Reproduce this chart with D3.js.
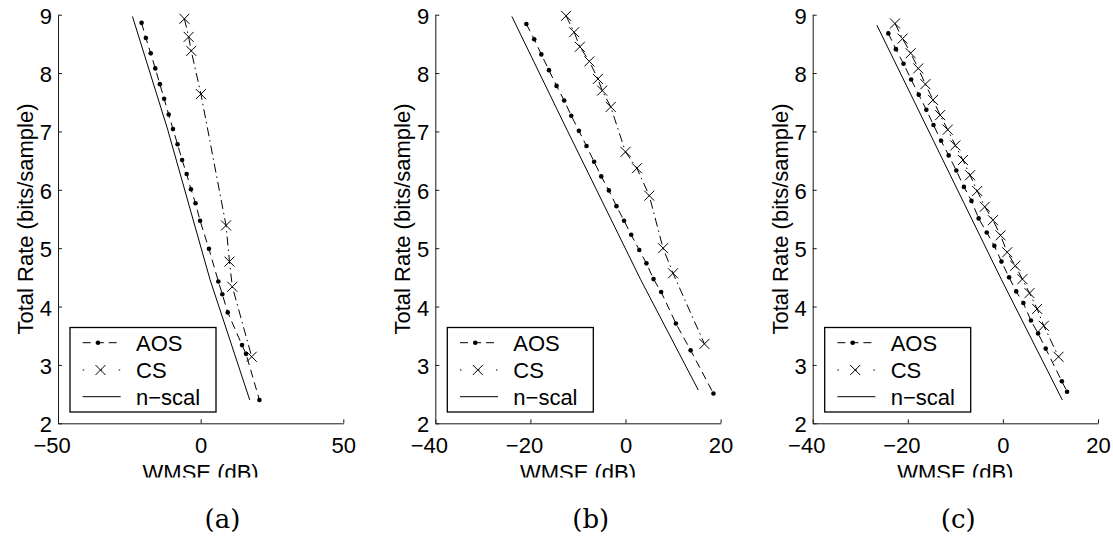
<!DOCTYPE html>
<html>
<head>
<meta charset="utf-8">
<script src="https://cdn.jsdelivr.net/npm/d3@7"></script>
<style>
    body { margin: 0; background: #fff; }
    svg { display: block; }
    text { font-family: "Liberation Sans", Arial, Helvetica, sans-serif; fill: #000; }
</style>
</head>
<body>
<div id="chart"></div>
<script>
// ---- data ----
// panel (a)
const aosWmseA = [-20.7, -19.2, -17.5, -15.9, -14.3, -12.8, -11.2, -9.7, -8.1, -6.5, -4.9, -3.4, -1.8, -0.2, 2.9, 6.2, 7.6, 9.5, 14.5, 15.9, 20.6]
const aosRateA = [8.86, 8.60, 8.34, 8.08, 7.81, 7.56, 7.29, 7.04, 6.78, 6.51, 6.27, 6.01, 5.77, 5.47, 4.99, 4.43, 4.21, 3.90, 3.34, 3.19, 2.40]
const csWmseA = [-5.7, -4.2, -3.3, 0.1, 8.9, 10.1, 11.1, 17.9]
const csRateA = [8.93, 8.62, 8.38, 7.64, 5.39, 4.77, 4.34, 3.14]
const nscalWmseA = [-23.9, -11.6, 3.3, 17.2]
const nscalRateA = [8.97, 7.04, 4.46, 2.40]

// panel (b)
const aosWmseB = [-20.85, -19.2, -17.7, -16.1, -14.5, -12.9, -11.4, -9.8, -8.2, -6.6, -5.1, -3.5, -1.9, -0.3, 1.2, 2.9, 4.4, 5.9, 7.5, 10.6, 13.7, 18.5]
const aosRateB = [8.84, 8.58, 8.32, 8.05, 7.78, 7.53, 7.27, 7.01, 6.75, 6.48, 6.23, 5.99, 5.72, 5.47, 5.23, 4.97, 4.74, 4.47, 4.25, 3.71, 3.25, 2.51]
const csWmseB = [-12.5, -10.8, -9.6, -7.6, -5.8, -4.9, -3.1, 0.0, 2.4, 5.0, 7.9, 10.0, 16.6]
const csRateB = [8.98, 8.70, 8.45, 8.20, 7.90, 7.70, 7.42, 6.65, 6.37, 5.90, 5.00, 4.57, 3.36]
const nscalWmseB = [-23.9, -12.2, 3.2, 15.3]
const nscalRateB = [8.97, 7.01, 4.46, 2.57]

// panel (c)
const aosWmseC = [-24.1, -22.5, -20.9, -19.3, -17.7, -16.1, -14.6, -13.0, -11.4, -9.8, -8.2, -6.6, -5.1, -3.4, -1.8, -0.3, 1.3, 2.8, 4.3, 5.9, 7.4, 9.0, 12.4, 13.5]
const aosRateC = [8.68, 8.41, 8.16, 7.89, 7.63, 7.37, 7.11, 6.84, 6.59, 6.33, 6.05, 5.81, 5.51, 5.27, 5.04, 4.77, 4.50, 4.26, 4.06, 3.76, 3.54, 3.28, 2.72, 2.54]
const csWmseC = [-22.7, -21.1, -19.4, -17.8, -16.3, -14.7, -13.2, -11.6, -10.0, -8.4, -6.9, -5.4, -3.8, -2.1, -0.5, 0.9, 2.6, 4.1, 5.6, 7.2, 8.6, 11.7]
const csRateC = [8.85, 8.59, 8.34, 8.08, 7.81, 7.54, 7.28, 7.03, 6.76, 6.51, 6.25, 5.98, 5.71, 5.48, 5.22, 4.93, 4.70, 4.47, 4.23, 3.96, 3.67, 3.14]
const nscalWmseC = [-26.5, -14.6, -0.3, 12.5]
const nscalRateC = [8.82, 6.84, 4.46, 2.40]

// axes
const xDomainA = [-50, 50]
const xDomainBC = [-40, 20]
const xTicksA = [-50, 0, 50]
const xTicksBC = [-40, -20, 0, 20]
const yDomain = [2, 9]
const yTicks = [2, 3, 4, 5, 6, 7, 8, 9]

const seriesNames = ['AOS', 'CS', 'n\u2212scal']
const panelLabels = ['(a)', '(b)', '(c)']
const xTitle = 'WMSE (dB)'
const yTitle = 'Total Rate (bits/sample)'

// ---- layout ----
let width = 1113,
    height = 542

let axisLeft = [58, 435.3, 812.7],
    plotW = 285.3,
    plotTop = 14.7,
    plotBottom = 423.3,
    captionX = [222.5, 590.8, 958.3]

let zip = (xs, ys) => xs.map((v, i) => [v, ys[i]])

let panels = [
    { xDomain: xDomainA, xTicks: xTicksA,
      aos: zip(aosWmseA, aosRateA), cs: zip(csWmseA, csRateA), nscal: zip(nscalWmseA, nscalRateA) },
    { xDomain: xDomainBC, xTicks: xTicksBC,
      aos: zip(aosWmseB, aosRateB), cs: zip(csWmseB, csRateB), nscal: zip(nscalWmseB, nscalRateB) },
    { xDomain: xDomainBC, xTicks: xTicksBC,
      aos: zip(aosWmseC, aosRateC), cs: zip(csWmseC, csRateC), nscal: zip(nscalWmseC, nscalRateC) }
]

let svg = d3.select('#chart')
    .append('svg')
    .attr('width', width)
    .attr('height', height)

// the x titles are cut off at the bottom in the original figure
svg.append('clipPath')
    .attr('id', 'xtitle-clip')
    .append('rect')
    .attr('x', 0).attr('y', 0)
    .attr('width', width).attr('height', 477.5)

let AOS_DASH = '8,5',
    CS_DASH = '9,4,1.5,4'

// x marker as a small path
function crossPath(cx, cy, r) {
    return `M${cx - r},${cy - r}L${cx + r},${cy + r}M${cx - r},${cy + r}L${cx + r},${cy - r}`
}

panels.forEach(function (p, i) {
    let x0 = axisLeft[i]
    let x = d3.scaleLinear().domain(p.xDomain).range([x0, x0 + plotW])
    let y = d3.scaleLinear().domain(yDomain).range([plotBottom, plotTop])

    let g = svg.append('g').attr('class', 'panel')

    // axes: only left and bottom, ticks pointing in
    let xAxis = d3.axisBottom(x).tickValues(p.xTicks).tickSizeInner(-4).tickSizeOuter(0).tickFormat('')
    let yAxis = d3.axisLeft(y).tickValues(yTicks).tickSizeInner(-4).tickSizeOuter(0).tickFormat('')

    let gx = g.append('g').attr('transform', `translate(0,${plotBottom})`).call(xAxis)
    let gy = g.append('g').attr('transform', `translate(${x0},0)`).call(yAxis)
    g.selectAll('.domain, .tick line').attr('stroke', '#1a1a1a').attr('stroke-width', 1)

    // y tick labels
    gy.selectAll('.tick').append('text')
        .attr('x', -6)
        .attr('y', 8.5)
        .attr('text-anchor', 'end')
        .style('font-size', '22px')
        .text(d => d)

    // x tick labels: digits centred on tick, minus sign hangs left (MATLAB style)
    gx.selectAll('.tick').each(function (d) {
        let t = d3.select(this).append('text')
            .attr('y', 29.5)
            .style('font-size', '22px')
            .text(Math.abs(d))
        let w = t.node().getComputedTextLength()
        t.attr('text-anchor', 'end')
            .attr('x', w / 2)
            .text(d < 0 ? '\u2212' + Math.abs(d) : d)
    })

    // axis titles
    g.append('text')
        .attr('clip-path', 'url(#xtitle-clip)')
        .attr('x', x0 + plotW / 2)
        .attr('y', 479.5)
        .attr('text-anchor', 'middle')
        .style('font-size', '22px')
        .text(xTitle)

    g.append('text')
        .attr('transform', `translate(${x0 - 25},${(plotTop + plotBottom) / 2}) rotate(-90)`)
        .attr('text-anchor', 'middle')
        .style('font-size', '22px')
        .text(yTitle)

    // lines
    let line = d3.line().x(d => x(d[0])).y(d => y(d[1]))

    g.append('path')
        .datum(p.nscal)
        .attr('d', line)
        .attr('fill', 'none')
        .attr('stroke', '#000')
        .attr('stroke-width', 1)

    g.append('path')
        .datum(p.aos)
        .attr('d', line)
        .attr('fill', 'none')
        .attr('stroke', '#000')
        .attr('stroke-width', 1)
        .attr('stroke-dasharray', AOS_DASH)

    g.append('path')
        .datum(p.cs)
        .attr('d', line)
        .attr('fill', 'none')
        .attr('stroke', '#000')
        .attr('stroke-width', 1)
        .attr('stroke-dasharray', CS_DASH)

    // markers
    g.selectAll('circle.aos')
        .data(p.aos)
        .enter()
        .append('circle')
        .attr('class', 'aos')
        .attr('cx', d => x(d[0]))
        .attr('cy', d => y(d[1]))
        .attr('r', 2.3)
        .attr('fill', '#000')

    g.selectAll('path.cs')
        .data(p.cs)
        .enter()
        .append('path')
        .attr('class', 'cs')
        .attr('d', d => crossPath(x(d[0]), y(d[1]), 5))
        .attr('stroke', '#000')
        .attr('stroke-width', 1)
        .attr('fill', 'none')

    // legend box
    let lx = x0 + 12, ly = 327.5
    let lg = g.append('g').attr('transform', `translate(${lx},${ly})`)
    lg.append('rect')
        .attr('width', 146)
        .attr('height', 84.5)
        .attr('fill', '#fff')
        .attr('stroke', '#000')
        .attr('stroke-width', 1.3)

    let rowY = [15.2, 42.5, 69.2]
    let dashes = [AOS_DASH, '1.5,16.5', null]
    seriesNames.forEach(function (name, k) {
        let l = lg.append('line')
            .attr('x1', 12.7).attr('x2', 50.7)
            .attr('y1', rowY[k]).attr('y2', rowY[k])
            .attr('stroke', '#000')
            .attr('stroke-width', 1)
        if (dashes[k]) l.attr('stroke-dasharray', dashes[k])
        if (k === 0) {
            lg.append('circle').attr('cx', 28).attr('cy', rowY[k]).attr('r', 2.3).attr('fill', '#000')
        } else if (k === 1) {
            lg.append('path').attr('d', crossPath(30.5, rowY[k], 5)).attr('stroke', '#000').attr('fill', 'none')
        }
        lg.append('text')
            .attr('x', 66)
            .attr('y', rowY[k])
            .attr('dy', '0.36em')
            .style('font-size', '22px')
            .text(name)
    })

    // panel caption
    svg.append('text')
        .attr('x', captionX[i])
        .attr('y', 528)
        .attr('text-anchor', 'middle')
        .style('font-family', '"DejaVu Serif", "Liberation Serif", serif')
        .style('font-size', '26px')
        .text(panelLabels[i])
})
</script>
</body>
</html>
